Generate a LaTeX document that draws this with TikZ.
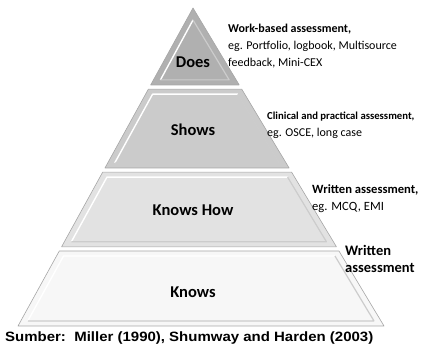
\documentclass[tikz,border=0pt]{standalone}
\usepackage{fontspec}
\setmainfont{Carlito}
\newfontfamily\arialfont{Liberation Sans}
\usetikzlibrary{calc}

\definecolor{doesgray}{HTML}{B0B0B0}
\definecolor{showsgray}{HTML}{CBCBCB}
\definecolor{howgray}{HTML}{E2E2E2}
\definecolor{knowsgray}{HTML}{F7F7F7}

\begin{document}
\begin{tikzpicture}[x=1pt,y=1pt,
    band/.style={draw=black!35,line width=.6pt,line join=round},
    bevel/.style={draw=white,line width=1.4pt,line join=round},
    shade/.style={draw=black!20,line width=1.2pt,line join=round},
    level/.style={font=\fontsize{16.5}{18}\selectfont\bfseries},
    note/.style={anchor=west,inner sep=0pt,align=left,font=\fontsize{12}{17}\selectfont}]
    \useasboundingbox (0,0) rectangle (422,350);
    \coordinate (top) at (193,342);
    \coordinate (bl) at (18,24);
    \coordinate (br) at (384,24);
    % Does
    \draw [band,fill=doesgray] (top) -- ($(top)!.242!(bl)$) -- ($(top)!.242!(br)$) --cycle;
    \draw [bevel] ($(top)!.226!(bl)+(7,0)$) -- ($(top)+(0,-12)$);
    \draw [shade] ($(top)+(0,-12)$) -- ($(top)!.226!(br)+(-7,0)$) -- ($(top)!.226!(bl)+(7,0)$);
    % Shows
    \draw [band,fill=showsgray] ($(top)!.255!(bl)$) -- ($(top)!.503!(bl)$) -- ($(top)!.503!(br)$) -- ($(top)!.255!(br)$) --cycle;
    \draw [bevel] ($(top)!.487!(bl)+(7,0)$) -- ($(top)!.271!(bl)+(7,0)$) -- ($(top)!.271!(br)+(-7,0)$);
    \draw [shade] ($(top)!.271!(br)+(-7,0)$) -- ($(top)!.487!(br)+(-7,0)$) -- ($(top)!.487!(bl)+(7,0)$);
    % Knows How
    \draw [band,fill=howgray] ($(top)!.516!(bl)$) -- ($(top)!.751!(bl)$) -- ($(top)!.751!(br)$) -- ($(top)!.516!(br)$) --cycle;
    \draw [bevel] ($(top)!.735!(bl)+(7,0)$) -- ($(top)!.532!(bl)+(7,0)$) -- ($(top)!.532!(br)+(-7,0)$);
    \draw [shade] ($(top)!.532!(br)+(-7,0)$) -- ($(top)!.735!(br)+(-7,0)$) -- ($(top)!.735!(bl)+(7,0)$);
    % Knows
    \draw [band,fill=knowsgray] ($(top)!.764!(bl)$) -- (bl) -- (br) -- ($(top)!.764!(br)$) --cycle;
    \draw [bevel] ($(top)!.984!(bl)+(7,0)$) -- ($(top)!.780!(bl)+(7,0)$) -- ($(top)!.780!(br)+(-7,0)$);
    \draw [shade] ($(top)!.780!(br)+(-7,0)$) -- ($(top)!.984!(br)+(-7,0)$) -- ($(top)!.984!(bl)+(7,0)$);

    \node [level] (does) at (193,288) {Does};
    \node [level] (shows) at (193,220) {Shows};
    \node [level] (knowshow) at (193,140) {Knows How};
    \node [level] (knows) at (193,58) {Knows};

    \node [note] (workbased) at (228,304) {\textbf{Work-based assessment,}\\eg. Portfolio, logbook, Multisource\\feedback, Mini-CEX};
    \node [note] (clinical) at (267,225) {{\fontsize{10.7}{17}\selectfont\bfseries Clinical and practical assessment,}\\eg. OSCE, long case};
    \node [note] (written) at (312,151) {{\fontsize{12.6}{17}\selectfont\bfseries Written assessment,}\\{\fontsize{12.6}{17}\selectfont eg. MCQ, EMI}};
    \node [note,font=\fontsize{14.5}{17}\selectfont\bfseries] (writtenonly) at (345,91.5) {Written\\assessment};

    \node [anchor=west,inner sep=0pt,font=\arialfont\bfseries\fontsize{13.5}{15}\selectfont] (source) at (5,12) {\scalebox{1.11}[1]{Sumber:\ \ Miller (1990), Shumway and Harden (2003)}};
\end{tikzpicture}
\end{document}
